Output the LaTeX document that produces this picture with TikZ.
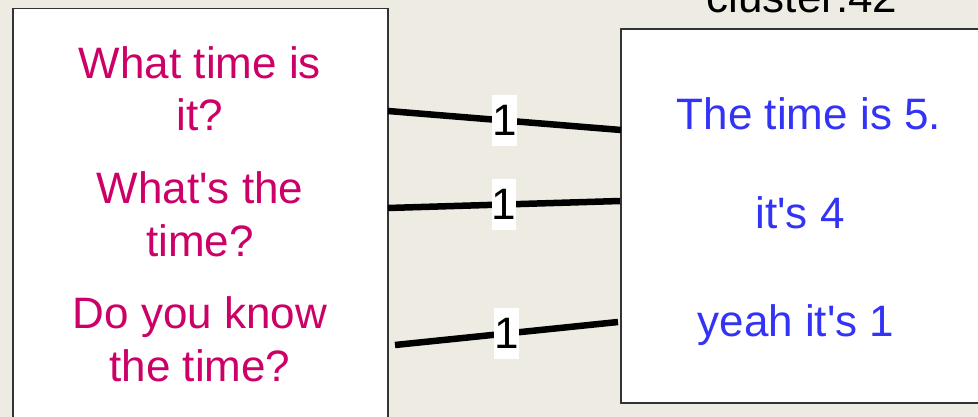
\documentclass[tikz,border=0pt]{standalone}
\usepackage{fontspec}
\setmainfont{Liberation Sans}
\definecolor{bgc}{HTML}{EEEBE3}
\definecolor{qcol}{HTML}{CC0066}
\definecolor{acol}{HTML}{3333F5}
\definecolor{boxc}{HTML}{333333}
\begin{document}
\begin{tikzpicture}[x=1pt,y=-1pt,
  big/.style={font=\fontsize{44}{52.5}\selectfont},
  qtext/.style={big,text=qcol,align=center,anchor=base,inner sep=0},
  atext/.style={big,text=acol,anchor=base,inner sep=0},
  clusterbox/.style={draw=boxc,line width=1.6pt,fill=white},
  link/.style={line width=6.5pt,black},
  weight/.style={big,fill=white,inner sep=0,text height=40.7pt,text depth=10.3pt}]
\useasboundingbox (0,0) rectangle (978,417);
\clip (0,0) rectangle (978,417);
\fill[bgc] (0,0) rectangle (978,417);
% clusters
\draw[clusterbox] (13,8.5) rectangle (388,430);
\draw[clusterbox] (621,29) rectangle (990,403);
\node[big,anchor=base,inner sep=0] (title) at (802,13) {cluster:42};
% questions (anchor = baseline of last line)
\node[qtext] (q1) at (200,131) {What time is\\it?};
\node[qtext] (q2) at (200,256) {What\textquotesingle s the\\time?};
\node[qtext] (q3) at (200,381) {Do you know\\the time?};
% answers
\node[atext] (a1) at (809,130) {The time is 5.};
\node[atext] (a2) at (800,229) {it\textquotesingle s 4};
\node[atext] (a3) at (796,336) {yeah it\textquotesingle s 1};
% edge end points
\coordinate (s1) at (388,111);
\coordinate (t1) at (621,130);
\coordinate (s2) at (388,208);
\coordinate (t2) at (620,201);
\coordinate (s3) at (395,345);
\coordinate (t3) at (618,322);
\draw[link] (s1) -- node[weight] (w1) {1} (t1);
\draw[link] (s2) -- node[weight] (w2) {1} (t2);
\draw[link] (s3) -- node[weight] (w3) {1} (t3);
\end{tikzpicture}
\end{document}
